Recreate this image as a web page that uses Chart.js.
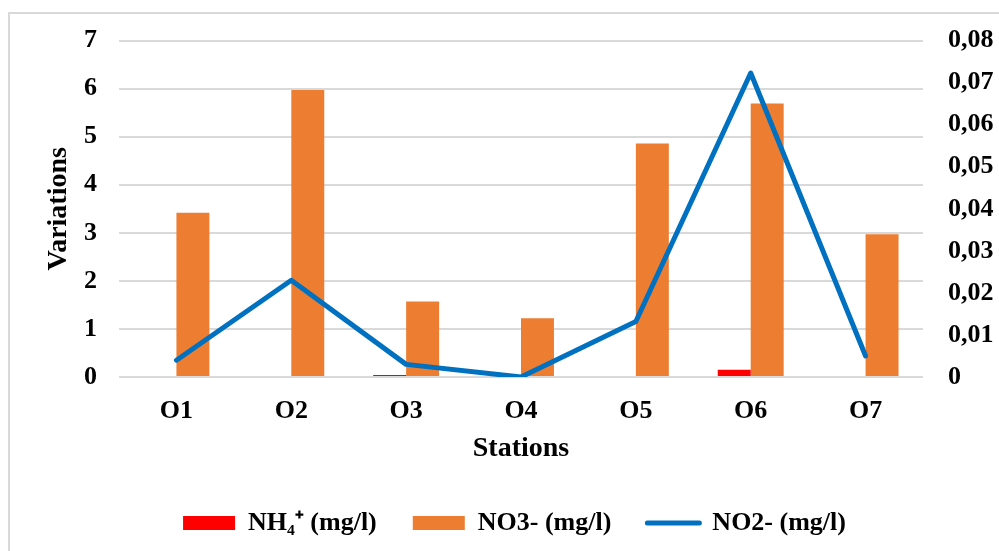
<!DOCTYPE html>
<html>
<head>
<meta charset="utf-8">
<script src="https://cdn.jsdelivr.net/npm/chart.js@4"></script>
<style>
  body { margin: 0; overflow: hidden; background: #fff; }
  #cadre { position: absolute; left: 8px; top: 12px; width: 1100px; height: 600px; border: 2px solid #d9d9d9; }
  #zone { position: absolute; left: 0; top: 0; width: 999px; height: 551px; }
</style>
</head>
<body>
<div id="cadre"></div>
<div id="zone"><canvas id="myChart" width="999" height="551"></canvas></div>
<script>
var stations = ['O1', 'O2', 'O3', 'O4', 'O5', 'O6', 'O7'];
var nh4 = [0, 0.02, 0.04, 0, 0, 0.15, 0];
var no3 = [3.42, 5.97, 1.57, 1.22, 4.86, 5.69, 2.97];
var no2 = [0.004, 0.023, 0.003, 0, 0.0132, 0.0723, 0.005];
var ticksGauche = [0, 1, 2, 3, 4, 5, 6, 7];
var ticksDroite = [0, 0.01, 0.02, 0.03, 0.04, 0.05, 0.06, 0.07, 0.08];

var police = 'Liberation Serif';
var bleu = '#0070C0';

const ctx = document.getElementById('myChart');

new Chart(ctx, {
  type: 'bar',
  data: {
    labels: stations,
    datasets: [{
      label: 'NH\u2084\u207A (mg/l)',
      data: nh4,
      backgroundColor: '#FF0000',
      yAxisID: 'y',
      order: 2
    }, {
      label: 'NO3- (mg/l)',
      data: no3,
      backgroundColor: '#ED7D31',
      yAxisID: 'y',
      order: 2
    }, {
      type: 'line',
      label: 'NO2- (mg/l)',
      data: no2,
      borderColor: bleu,
      backgroundColor: bleu,
      borderWidth: 5,
      pointRadius: 0,
      borderJoinStyle: 'round',
      borderCapStyle: 'round',
      tension: 0,
      yAxisID: 'y2',
      order: 1
    }]
  },
  options: {
    responsive: false,
    animation: false,
    categoryPercentage: 0.574,
    barPercentage: 1.0,
    // marge gauche pour recentrer la légende comme dans l'original
    layout: { padding: { top: 36, bottom: 5, left: 30, right: 0 } },
    plugins: {
      tooltip: { enabled: false },
      legend: {
        position: 'bottom',
        labels: {
          usePointStyle: true,
          pointStyleWidth: 52,
          boxHeight: 14,
          padding: 36,
          color: '#000',
          font: { family: police, size: 26, weight: 'bold' },
          sort: function (a, b) { return a.datasetIndex - b.datasetIndex; },
          generateLabels: function (chart) {
            var items = Chart.defaults.plugins.legend.labels.generateLabels(chart);
            items.forEach(function (it) {
              if (it.datasetIndex == 2) {
                it.pointStyle = 'line';
                it.lineWidth = 5;
                it.strokeStyle = bleu;
                it.lineCap = 'round';
              } else {
                it.pointStyle = 'rect';
                it.lineWidth = 0;
              }
            });
            return items;
          }
        }
      }
    },
    scales: {
      x: {
        grid: { display: false },
        border: { display: false },
        ticks: { color: '#000', padding: 11, font: { family: police, size: 26, weight: 'bold' } },
        title: { display: true, text: 'Stations', color: '#000', padding: { top: 0, bottom: 8 }, font: { family: police, size: 28, weight: 'bold' } },
        afterFit: function (s) { s.height = 97; }
      },
      y: {
        position: 'left',
        min: 0,
        max: 7,
        afterBuildTicks: function (s) { s.ticks = ticksGauche.map(function (v) { return { value: v }; }); },
        grid: { color: '#d9d9d9', lineWidth: 2, drawTicks: false },
        border: { display: false },
        ticks: { color: '#000', padding: 22, font: { family: police, size: 26, weight: 'bold' } },
        title: { display: true, text: 'Variations', color: '#000', padding: { top: 12, bottom: 0 }, font: { family: police, size: 28, weight: 'bold' } },
        afterFit: function (s) { s.width = 89; }
      },
      y2: {
        position: 'right',
        min: 0,
        max: 0.08,
        afterBuildTicks: function (s) { s.ticks = ticksDroite.map(function (v) { return { value: v }; }); },
        grid: { display: false, drawTicks: false },
        border: { display: false },
        ticks: {
          color: '#000',
          padding: 25,
          font: { family: police, size: 26, weight: 'bold' },
          callback: function (v) { return v == 0 ? '0' : Number(v).toFixed(2).replace('.', ','); }
        },
        afterFit: function (s) { s.width = 76; }
      }
    }
  }
});
</script>
</body>
</html>
